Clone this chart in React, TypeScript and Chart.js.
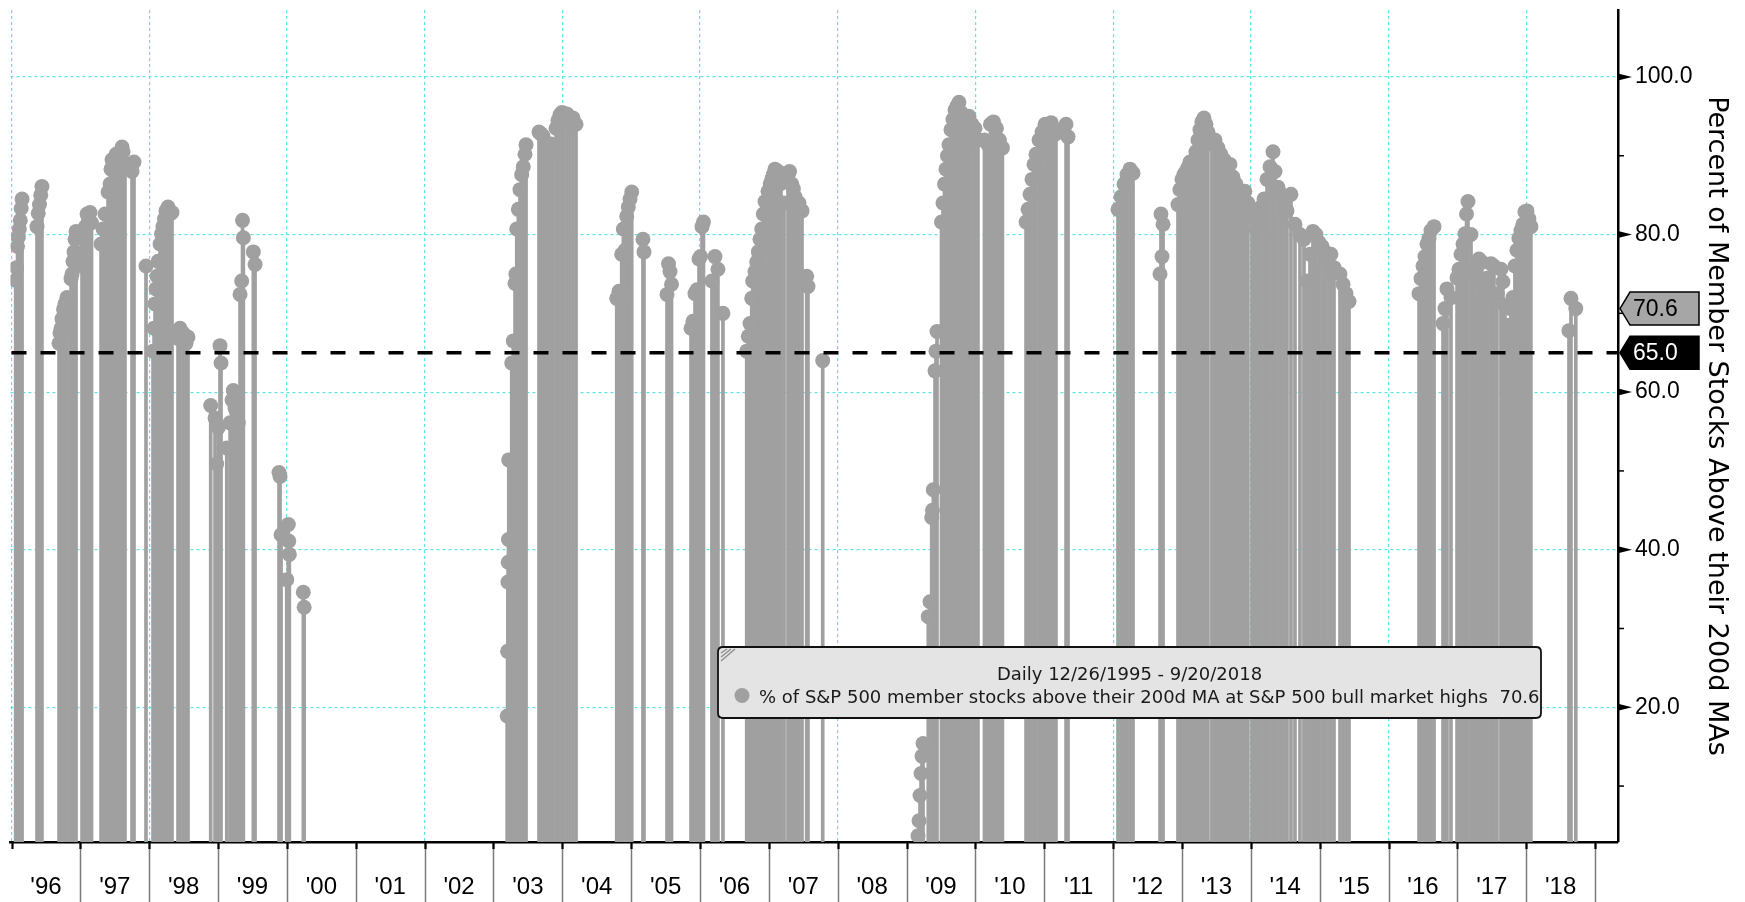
import React, { useEffect, useRef } from 'react';
import { Chart, registerables } from 'chart.js';

Chart.register(...registerables);

// ---- data (date as fractional year, value in %) ----
const DATES: number[] = [
  1996.060, 1996.073, 1996.087, 1996.100, 1996.113, 1996.127, 1996.140, 1996.153,
  1996.370, 1996.388, 1996.406, 1996.424, 1996.442,
  1996.690, 1996.704, 1996.719, 1996.733, 1996.755, 1996.777, 1996.806, 1996.850, 1996.864, 1996.879, 1996.893, 1996.908, 1996.922, 1996.937,
  1997.024, 1997.039, 1997.053, 1997.075, 1997.097, 1997.118, 1997.140, 1997.162,
  1997.300, 1997.329, 1997.358, 1997.387, 1997.402, 1997.431, 1997.445, 1997.460, 1997.489, 1997.518, 1997.547, 1997.576, 1997.605, 1997.619, 1997.648,
  1997.750, 1997.779, 1997.953,
  1998.055, 1998.070, 1998.084, 1998.099, 1998.113, 1998.128, 1998.157, 1998.179, 1998.200, 1998.222, 1998.244, 1998.273, 1998.302, 1998.331,
  1998.418, 1998.447, 1998.491, 1998.534, 1998.563,
  1998.893, 1998.956, 1998.980, 1999.004, 1999.028, 1999.043, 1999.126, 1999.174, 1999.203, 1999.221, 1999.246, 1999.268, 1999.294,
  1999.319, 1999.343, 1999.355, 1999.367, 1999.512, 1999.537,
  1999.885, 1999.900, 1999.915, 1999.997, 2000.020, 2000.027, 2000.035, 2000.238, 2000.250,
  2003.200, 2003.205, 2003.210, 2003.214, 2003.218, 2003.222,
  2003.265, 2003.288, 2003.313, 2003.325, 2003.338, 2003.361, 2003.385, 2003.410, 2003.433, 2003.458, 2003.473,
  2003.661, 2003.691, 2003.720, 2003.749, 2003.792, 2003.836, 2003.865,
  2003.909, 2003.937, 2003.966, 2003.995, 2004.024, 2004.068, 2004.111, 2004.155, 2004.199,
  2004.790, 2004.823, 2004.862, 2004.886, 2004.910, 2004.935, 2004.958, 2004.983, 2005.008,
  2005.171, 2005.186, 2005.520, 2005.542, 2005.564, 2005.586,
  2005.869, 2005.898, 2005.927, 2005.956, 2005.985, 2006.007, 2006.029, 2006.050,
  2006.173, 2006.217, 2006.260, 2006.333,
  2006.678, 2006.701, 2006.726, 2006.751, 2006.765, 2006.799, 2006.823, 2006.847, 2006.871, 2006.896, 2006.919, 2006.944,
  2006.987, 2007.019, 2007.041, 2007.065, 2007.089, 2007.113, 2007.137, 2007.176, 2007.220,
  2007.278, 2007.300, 2007.332, 2007.356, 2007.380, 2007.404, 2007.438, 2007.481,
  2007.549, 2007.568, 2007.782,
  2009.166, 2009.181, 2009.195, 2009.210, 2009.224, 2009.239,
  2009.315, 2009.340, 2009.365, 2009.376, 2009.388, 2009.413, 2009.427, 2009.442,
  2009.507, 2009.529, 2009.551, 2009.573, 2009.594, 2009.616, 2009.645, 2009.674, 2009.703, 2009.732, 2009.761,
  2009.790, 2009.819, 2009.848, 2009.877, 2009.906, 2009.950, 2009.994, 2010.037,
  2010.131, 2010.175, 2010.218, 2010.262, 2010.305, 2010.349, 2010.392,
  2010.735, 2010.764, 2010.793, 2010.822, 2010.851, 2010.880, 2010.924, 2010.967, 2011.011, 2011.054, 2011.098, 2011.141, 2011.170,
  2011.316, 2011.345,
  2012.071, 2012.115, 2012.158, 2012.202, 2012.245, 2012.289,
  2012.681, 2012.695, 2012.710, 2012.725,
  2012.942, 2012.971, 2013.000, 2013.029, 2013.058, 2013.087, 2013.116, 2013.145, 2013.174, 2013.203, 2013.232, 2013.261, 2013.290, 2013.319, 2013.348, 2013.377,
  2013.435, 2013.479, 2013.522, 2013.566, 2013.610, 2013.653,
  2013.697, 2013.740, 2013.784, 2013.827, 2013.871, 2013.914, 2013.958,
  2014.017, 2014.046, 2014.075, 2014.104, 2014.148, 2014.192,
  2014.235, 2014.279, 2014.322, 2014.351, 2014.395, 2014.438, 2014.482, 2014.525,
  2014.583, 2014.641, 2014.714,
  2014.772, 2014.816, 2014.859, 2014.903, 2014.946, 2014.990, 2015.034, 2015.077, 2015.121, 2015.164, 2015.208,
  2015.295, 2015.339, 2015.382, 2015.426,
  2016.443, 2016.472, 2016.501, 2016.530, 2016.559, 2016.588, 2016.617, 2016.661,
  2016.791, 2016.820, 2016.849, 2016.907,
  2016.995, 2017.023, 2017.053, 2017.082, 2017.111, 2017.133, 2017.154, 2017.198,
  2017.227, 2017.270, 2017.314, 2017.357, 2017.401, 2017.444, 2017.488, 2017.531, 2017.575,
  2017.633, 2017.662, 2017.691, 2017.720, 2017.749, 2017.778, 2017.807, 2017.836, 2017.865, 2017.894, 2017.923, 2017.952, 2017.981, 2018.010, 2018.039, 2018.068,
  2018.621, 2018.650, 2018.720,
];

const VALUES: number[] = [
  74.2, 75.8, 78.5, 79.7, 80.7, 81.8, 83.3, 84.5,
  81.0, 82.7, 83.8, 85.0, 86.1,
  66.2, 67.5, 68.1, 69.3, 70.5, 71.2, 72.0, 71.5, 74.4, 75.0, 76.6, 77.8, 79.4, 80.4,
  76.0, 77.8, 79.4, 81.0, 82.6, 82.0, 82.8, 81.5,
  78.8, 80.7, 82.6, 80.0, 85.4, 86.4, 88.3, 89.5, 88.0, 90.2, 89.0, 90.0, 91.1, 90.5, 89.0,
  88.0, 89.2, 76.0,
  65.2, 68.1, 71.2, 73.1, 74.7, 76.6, 78.8, 80.1, 81.0, 82.0, 83.0, 83.5, 82.6, 82.8,
  66.8, 68.1, 67.5, 66.2, 67.0,
  58.3, 56.7, 50.9, 55.5, 65.9, 63.7, 52.9, 56.1, 59.0, 60.2, 58.0, 57.5, 56.1,
  72.4, 74.1, 81.8, 79.6, 77.8, 76.2,
  49.8, 49.3, 41.9, 36.2, 43.2, 41.1, 39.4, 34.6, 32.7,
  18.9, 27.1, 35.9, 38.4, 41.3, 51.4,
  63.7, 66.5, 73.8, 75.0, 80.7, 83.2, 85.7, 87.6, 88.6, 90.2, 91.4,
  93.0, 92.8, 92.5, 91.6, 91.0, 91.5, 90.5,
  93.5, 94.5, 95.2, 95.5, 95.0, 95.3, 94.3, 94.8, 94.0,
  71.9, 72.8, 77.5, 80.7, 78.0, 82.3, 83.5, 84.5, 85.4,
  79.4, 77.8, 72.4, 76.3, 75.3, 73.7,
  68.1, 69.0, 72.5, 73.0, 76.9, 77.2, 81.0, 81.6,
  74.1, 77.2, 75.6, 70.0,
  65.2, 67.1, 68.7, 71.9, 74.1, 75.3, 76.5, 77.8, 79.4, 80.7, 82.6, 84.2,
  85.5, 86.4, 87.0, 87.6, 88.3, 87.0, 88.0, 86.5, 84.0,
  87.5, 88.0, 86.4, 85.8, 84.8, 83.5, 84.0, 83.0,
  74.7, 73.4, 64.0,
  3.7, 5.6, 8.8, 11.6, 13.8, 15.4,
  31.5, 33.4, 44.1, 45.0, 47.6, 62.7, 65.2, 67.7,
  81.6, 84.0, 86.4, 88.3, 90.0, 91.4, 93.3, 94.6, 95.8, 96.3, 96.8,
  95.5, 93.0, 92.5, 94.5, 95.0, 94.0, 93.5, 92.0,
  92.0, 91.5, 94.0, 94.3, 93.5, 92.0, 91.0,
  81.6, 83.2, 85.1, 87.0, 88.9, 90.2, 92.0, 93.0, 94.0, 93.8, 94.2, 93.5, 92.8,
  94.0, 92.4,
  83.2, 84.8, 86.4, 87.6, 88.3, 87.8,
  75.0, 82.6, 77.2, 81.3,
  83.8, 85.7, 87.0, 87.6, 88.0, 88.5, 89.2, 88.8, 89.0, 90.5, 92.0, 93.3, 94.3, 94.8, 94.0, 93.0,
  91.5, 92.0, 91.0, 90.2, 89.5, 89.0,
  88.9, 87.3, 86.4, 85.4, 84.8, 85.5, 84.0,
  83.2, 82.0, 80.7, 82.5, 83.5, 84.5,
  87.0, 88.6, 90.5, 88.0, 86.0, 85.1, 84.0, 83.0,
  85.1, 81.3, 80.0,
  79.4, 74.1, 77.5, 80.4, 80.0, 79.0, 78.5, 77.8, 76.8, 77.5, 75.8,
  75.0, 73.7, 72.5, 71.5,
  72.5, 74.4, 76.0, 77.2, 78.8, 79.5, 80.5, 81.0,
  68.7, 70.6, 73.1, 72.0,
  74.5, 75.6, 77.5, 78.8, 80.1, 82.6, 84.2, 80.0,
  75.3, 76.0, 76.9, 76.5, 73.7, 74.5, 76.3, 76.0, 72.5,
  75.6, 74.0, 71.0, 68.5, 66.8, 70.6, 72.0, 76.0, 78.0, 79.5, 80.5, 81.3, 82.9, 83.0, 82.0, 81.0,
  67.8, 71.9, 70.6,
];

const FIRST_YEAR = 1996;
const YEAR_LABELS: string[] = ["'96", "'97", "'98", "'99", "'00", "'01", "'02", "'03", "'04", "'05", "'06", "'07", "'08", "'09", "'10", "'11", "'12", "'13", "'14", "'15", "'16", "'17", "'18"];
const Y_TICKS: number[] = [10, 20, 30, 40, 50, 60, 70, 80, 90, 100];
const Y_LABEL_STEP = 20;
const THRESHOLD = 65.0;
const LAST_VALUE = 70.6;
const X_MIN = 1995.985;
const X_MAX = 2019.333;
const Y_MIN = 2.9;
const Y_MAX = 108.5;
const Y_TITLE = 'Percent of Member Stocks Above their 200d MAs';
const LEGEND_TITLE = 'Daily 12/26/1995 - 9/20/2018';
const SERIES_NAME = '% of S&P 500 member stocks above their 200d MA at S&P 500 bull market highs';

// ---- styles ----
const W = 1745;
const H = 902;
const GRAY = '#a0a0a0';
const CYAN = '#5ee3ea';
const CLEAR = 'rgba(0,0,0,0)';
const GRID_DASH = [3, 3];
const TICK_FONT = '"Liberation Sans", Arial, sans-serif';
const TITLE_FONT = '"DejaVu Sans", Verdana, sans-serif';

const BOUNDARIES: number[] = YEAR_LABELS.map((_, i) => FIRST_YEAR + i).concat([FIRST_YEAR + YEAR_LABELS.length]);
const MIDS: number[] = YEAR_LABELS.map((_, i) => FIRST_YEAR + i + 0.5);
const X_TICKS: number[] = [...BOUNDARIES, ...MIDS].sort((a, b) => a - b);

const isBoundary = (v: number) => Math.abs(v - Math.round(v)) < 1e-6;

const decorPlugin = {
  id: 'decor',
  afterDatasetsDraw(chart: any) {
    const { ctx, chartArea, scales } = chart;
    const ys = scales.y;
    // threshold line
    const ty = ys.getPixelForValue(THRESHOLD);
    ctx.save();
    ctx.strokeStyle = '#000';
    ctx.lineWidth = 3.5;
    ctx.setLineDash([15, 14]);
    ctx.beginPath();
    ctx.moveTo(chartArea.left + 1, ty);
    ctx.lineTo(chartArea.right, ty);
    ctx.stroke();
    ctx.restore();

    // legend box
    const lx = 718, ly = 647, lw = 823, lh = 71, r = 5;
    ctx.save();
    ctx.beginPath();
    ctx.moveTo(lx + r, ly);
    ctx.lineTo(lx + lw - r, ly);
    ctx.quadraticCurveTo(lx + lw, ly, lx + lw, ly + r);
    ctx.lineTo(lx + lw, ly + lh - r);
    ctx.quadraticCurveTo(lx + lw, ly + lh, lx + lw - r, ly + lh);
    ctx.lineTo(lx + r, ly + lh);
    ctx.quadraticCurveTo(lx, ly + lh, lx, ly + lh - r);
    ctx.lineTo(lx, ly + r);
    ctx.quadraticCurveTo(lx, ly, lx + r, ly);
    ctx.closePath();
    ctx.fillStyle = '#e4e4e4';
    ctx.fill();
    ctx.lineWidth = 1.8;
    ctx.strokeStyle = '#111';
    ctx.stroke();
    // grip marks
    ctx.strokeStyle = '#8a8a8a';
    ctx.lineWidth = 1.2;
    for (let k = 0; k < 3; k++) {
      ctx.beginPath();
      ctx.moveTo(lx + 3, ly + 6 + k * 4);
      ctx.lineTo(lx + 9 + k * 4, ly + 2);
      ctx.stroke();
    }
    ctx.fillStyle = '#1a1a1a';
    ctx.font = '18px ' + TITLE_FONT;
    ctx.textAlign = 'center';
    ctx.textBaseline = 'alphabetic';
    ctx.fillText(LEGEND_TITLE, lx + lw / 2, 679.5);
    ctx.beginPath();
    ctx.arc(742, 695.5, 7.5, 0, Math.PI * 2);
    ctx.fillStyle = GRAY;
    ctx.fill();
    ctx.fillStyle = '#1a1a1a';
    ctx.textAlign = 'left';
    ctx.fillText(SERIES_NAME + '  ' + LAST_VALUE.toFixed(1), 759, 703);
    ctx.restore();
  },
  afterDraw(chart: any) {
    const { ctx, chartArea, scales } = chart;
    const ys = scales.y;
    const xs = scales.x;
    const ax = chartArea.right;
    ctx.save();
    // y tick markers
    ctx.fillStyle = '#000';
    ctx.strokeStyle = '#000';
    ctx.lineWidth = 1.5;
    Y_TICKS.forEach((v) => {
      const py = ys.getPixelForValue(v);
      if (v % Y_LABEL_STEP === 0) {
        ctx.beginPath();
        ctx.moveTo(ax, py - 3.5);
        ctx.lineTo(ax + 14, py);
        ctx.lineTo(ax, py + 3.5);
        ctx.closePath();
        ctx.fill();
      } else {
        ctx.beginPath();
        ctx.moveTo(ax, py);
        ctx.lineTo(ax + 6, py);
        ctx.stroke();
      }
    });
    // x year boundary ticks
    BOUNDARIES.forEach((yr, i) => {
      const px = Math.round(xs.getPixelForValue(yr)) + 0.5;
      if (i > 0) {
        ctx.strokeStyle = '#7a7a7a';
        ctx.lineWidth = 1.5;
        ctx.beginPath();
        ctx.moveTo(px, chartArea.bottom);
        ctx.lineTo(px, H);
        ctx.stroke();
      }
      ctx.strokeStyle = '#000';
      ctx.lineWidth = 2.2;
      ctx.beginPath();
      ctx.moveTo(px, chartArea.bottom);
      ctx.lineTo(px, chartArea.bottom + 7);
      ctx.stroke();
    });
    // value tags
    const tag = (v: number, fill: string, color: string) => {
      const py = ys.getPixelForValue(v);
      const x0 = ax + 2, x1 = ax + 12, x2 = ax + 81, h = 16.5;
      ctx.beginPath();
      ctx.moveTo(x0, py);
      ctx.lineTo(x1, py - h);
      ctx.lineTo(x2, py - h);
      ctx.lineTo(x2, py + h);
      ctx.lineTo(x1, py + h);
      ctx.closePath();
      ctx.fillStyle = fill;
      ctx.fill();
      ctx.strokeStyle = '#000';
      ctx.lineWidth = 1.5;
      ctx.stroke();
      ctx.fillStyle = color;
      ctx.font = '23px ' + TICK_FONT;
      ctx.textAlign = 'left';
      ctx.textBaseline = 'middle';
      ctx.fillText(v.toFixed(1), ax + 15, py + 1);
    };
    tag(LAST_VALUE, '#a6a6a6', '#000');
    tag(THRESHOLD, '#000', '#fff');
    ctx.restore();
  },
};

export default function App() {
  const ref = useRef<HTMLCanvasElement>(null);
  useEffect(() => {
    const canvas = ref.current;
    if (!canvas) return;
    const points = DATES.map((d, i) => ({ x: d, y: VALUES[i] }));
    const chart = new Chart(canvas, {
      type: 'bar',
      data: {
        datasets: [
          {
            type: 'line',
            label: SERIES_NAME,
            data: points,
            showLine: false,
            pointRadius: 7.5,
            pointBackgroundColor: GRAY,
            pointBorderWidth: 0,
            pointHoverRadius: 7.5,
            order: 1,
          } as any,
          {
            type: 'bar',
            label: 'stems',
            data: points,
            backgroundColor: GRAY,
            borderWidth: 0,
            barThickness: 3,
            order: 2,
          } as any,
        ],
      },
      options: {
        responsive: false,
        maintainAspectRatio: false,
        animation: false,
        devicePixelRatio: 1,
        events: [],
        layout: { padding: { left: 10.5, top: 10, right: 0, bottom: 0 } },
        plugins: { legend: { display: false }, tooltip: { enabled: false } },
        scales: {
          x: {
            type: 'linear',
            position: 'bottom',
            min: X_MIN,
            max: X_MAX,
            bounds: 'data',
            offset: false,
            afterBuildTicks: (s: any) => {
              s.ticks = X_TICKS.map((v) => ({ value: v }));
            },
            afterFit: (s: any) => {
              s.height = 60;
              s.paddingLeft = 0;
              s.paddingRight = 0;
            },
            grid: {
              offset: false,
              drawTicks: false,
              lineWidth: 1.2,
              borderDash: GRID_DASH,
              color: (c: any) => {
                const v = c.tick ? c.tick.value : NaN;
                return isBoundary(v) && Math.round(v) % 2 === 0 ? CYAN : CLEAR;
              },
            },
            border: { display: true, color: '#000', width: 2.5, dash: GRID_DASH },
            ticks: {
              autoSkip: false,
              maxRotation: 0,
              minRotation: 0,
              padding: 30.6,
              color: '#000',
              font: { family: TICK_FONT, size: 24 },
              callback: (v: any) => {
                const n = Number(v);
                if (isBoundary(n)) return '';
                return YEAR_LABELS[Math.floor(n) - FIRST_YEAR] ?? '';
              },
            },
          } as any,
          y: {
            type: 'linear',
            position: 'right',
            min: Y_MIN,
            max: Y_MAX,
            bounds: 'data',
            afterBuildTicks: (s: any) => {
              s.ticks = Y_TICKS.map((v) => ({ value: v }));
            },
            afterFit: (s: any) => {
              s.width = 127;
              s.paddingTop = 0;
              s.paddingBottom = 0;
            },
            grid: {
              drawTicks: false,
              lineWidth: 1.2,
              borderDash: GRID_DASH,
              color: (c: any) => (c.tick && c.tick.value % Y_LABEL_STEP === 0 ? CYAN : CLEAR),
            },
            border: { display: true, color: '#000', width: 2.5, dash: GRID_DASH },
            ticks: {
              autoSkip: false,
              padding: 17,
              color: '#000',
              font: { family: TICK_FONT, size: 23 },
              callback: (v: any) => (Number(v) % Y_LABEL_STEP === 0 ? Number(v).toFixed(1) : ''),
            },
            title: {
              display: true,
              text: Y_TITLE,
              color: '#000',
              font: { family: TITLE_FONT, size: 27 },
              padding: { top: 13, bottom: 0 },
            },
          } as any,
        },
      },
      plugins: [decorPlugin],
    } as any);
    return () => chart.destroy();
  }, []);

  return (
    <div style={{ position: 'fixed', left: 0, top: 0, width: W, height: H, background: '#fff' }}>
      <canvas ref={ref} width={W} height={H} style={{ display: 'block', width: W, height: H }} />
    </div>
  );
}
